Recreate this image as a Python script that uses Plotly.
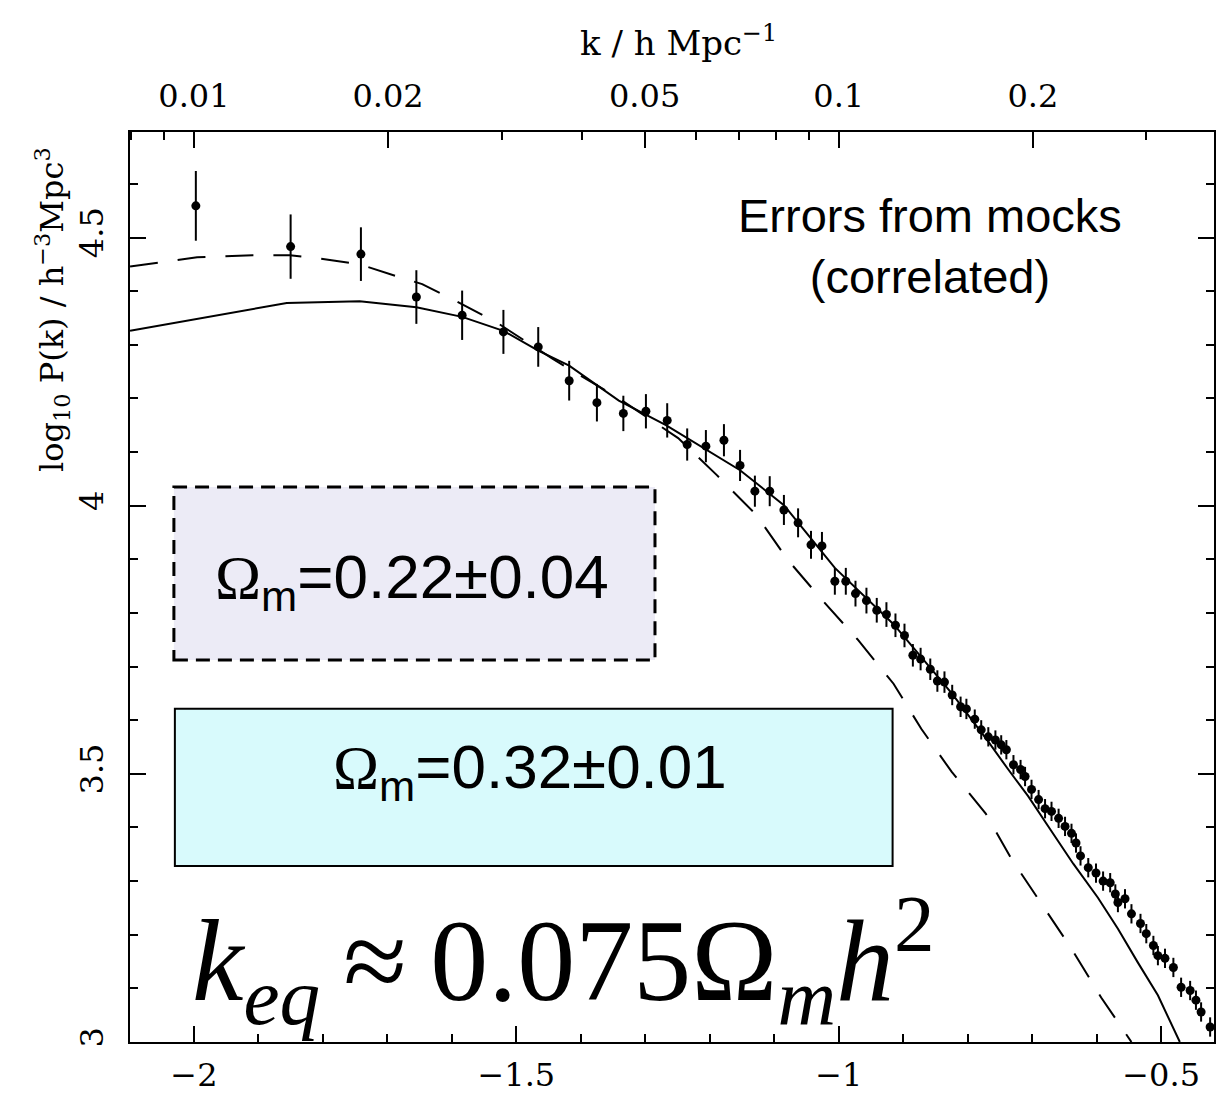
import numpy as np
import plotly.graph_objects as go

# Measured band powers: log10 k, log10 P(k) and 1-sigma errors
log_k = [-1.997, -1.850, -1.741, -1.655, -1.584, -1.520, -1.466, -1.418, -1.375, -1.334,
         -1.299, -1.266, -1.235, -1.206, -1.178, -1.153, -1.130, -1.107, -1.085, -1.063,
         -1.043, -1.026, -1.006, -0.989, -0.974, -0.957, -0.941, -0.926, -0.912, -0.898,
         -0.885, -0.873, -0.858, -0.847, -0.836, -0.824, -0.811, -0.802, -0.789, -0.779,
         -0.768, -0.757, -0.748, -0.740, -0.729, -0.718, -0.711, -0.701, -0.690, -0.680,
         -0.670, -0.659, -0.649, -0.639, -0.632, -0.625, -0.613, -0.601, -0.590, -0.579,
         -0.571, -0.567, -0.556, -0.546, -0.532, -0.523, -0.512, -0.505, -0.494, -0.481,
         -0.469, -0.455, -0.446, -0.438, -0.424]
log_p = [4.559, 4.483, 4.469, 4.389, 4.355, 4.324, 4.296, 4.233, 4.192, 4.172,
         4.176, 4.159, 4.114, 4.111, 4.122, 4.075, 4.027, 4.027, 3.992, 3.968,
         3.927, 3.925, 3.859, 3.859, 3.836, 3.823, 3.805, 3.797, 3.777, 3.758,
         3.721, 3.714, 3.695, 3.673, 3.671, 3.647, 3.625, 3.621, 3.602, 3.582,
         3.569, 3.563, 3.554, 3.545, 3.517, 3.508, 3.495, 3.471, 3.452, 3.435,
         3.430, 3.417, 3.402, 3.389, 3.371, 3.347, 3.325, 3.315, 3.300, 3.297,
         3.276, 3.260, 3.267, 3.239, 3.221, 3.202, 3.180, 3.161, 3.156, 3.139,
         3.102, 3.096, 3.078, 3.056, 3.028]
log_p_err = [0.065, 0.060, 0.050, 0.050, 0.046, 0.041, 0.037, 0.037, 0.035, 0.033,
             0.032, 0.032, 0.030, 0.030, 0.030, 0.029, 0.029, 0.028, 0.028, 0.027,
             0.026, 0.026, 0.025, 0.025, 0.024, 0.024, 0.023, 0.023, 0.022, 0.022,
             0.021, 0.021, 0.020, 0.020, 0.020, 0.019, 0.019, 0.019, 0.018, 0.018,
             0.018, 0.018, 0.018, 0.018, 0.018, 0.018, 0.018, 0.018, 0.018, 0.018,
             0.018, 0.018, 0.018, 0.018, 0.018, 0.018, 0.018, 0.018, 0.018, 0.018,
             0.018, 0.018, 0.018, 0.018, 0.018, 0.018, 0.018, 0.018, 0.018, 0.018,
             0.018, 0.018, 0.018, 0.018, 0.018]

# Model spectra: solid (convolved best fit) and dashed (linear model)
solid_log_k = [-2.099, -1.856, -1.743, -1.655, -1.584, -1.520, -1.466, -1.418, -1.341, -1.268,
               -1.153, -1.085, -1.006, -0.915, -0.824, -0.768, -0.737, -0.706, -0.670, -0.636,
               -0.598, -0.567, -0.536, -0.505, -0.471]
solid_log_p = [4.326, 4.378, 4.381, 4.370, 4.352, 4.326, 4.289, 4.261, 4.196, 4.150,
               4.066, 4.001, 3.884, 3.779, 3.649, 3.560, 3.508, 3.458, 3.393, 3.332,
               3.269, 3.211, 3.148, 3.087, 3.000]
dashed_log_k = [-2.099, -1.995, -1.909, -1.851, -1.805, -1.743, -1.686, -1.646, -1.599, -1.531,
                -1.444, -1.341, -1.249, -1.189, -1.128, -1.079, -1.025, -0.971, -0.915, -0.872,
                -0.825, -0.772, -0.732, -0.680, -0.639, -0.593, -0.546]
dashed_log_p = [4.446, 4.463, 4.467, 4.467, 4.461, 4.450, 4.428, 4.413, 4.385, 4.342,
                4.274, 4.200, 4.126, 4.057, 3.983, 3.899, 3.823, 3.751, 3.668, 3.584,
                3.504, 3.426, 3.341, 3.248, 3.174, 3.083, 3.000]

# Axis ticks
x_major = [-2, -1.5, -1, -0.5]
y_major = [3, 3.5, 4, 4.5]
k_labels = [0.01, 0.02, 0.05, 0.1, 0.2]
k_label_text = ["0.01", "0.02", "0.05", "0.1", "0.2"]
k_minor = [0.008, 0.009, 0.03, 0.04, 0.06, 0.07, 0.08, 0.09, 0.3]

x_range = [-2.0991, -0.4180]
y_range = [3.0, 4.6967]

tick_font = dict(family="DejaVu Serif, Liberation Serif, serif", size=32, color="black")
sans = "Liberation Sans, Arial, sans-serif"
serif = "Liberation Serif, Times New Roman, serif"

fig = go.Figure()

fig.add_trace(go.Scatter(
    x=solid_log_k, y=solid_log_p, mode="lines",
    line=dict(color="black", width=2), showlegend=False, hoverinfo="skip"))
fig.add_trace(go.Scatter(
    x=dashed_log_k, y=dashed_log_p, mode="lines",
    line=dict(color="black", width=2, dash="28px,20px"), showlegend=False, hoverinfo="skip"))
fig.add_trace(go.Scatter(
    x=log_k, y=log_p, mode="markers",
    marker=dict(color="black", size=9),
    error_y=dict(type="data", array=log_p_err, visible=True, color="black",
                 thickness=2, width=0),
    showlegend=False))
# carrier trace for the top k axis
fig.add_trace(go.Scatter(x=[x_range[0]], y=[y_range[0]], xaxis="x2", mode="markers",
                         marker=dict(opacity=0), showlegend=False, hoverinfo="skip"))

fig.update_layout(
    width=1216, height=1094,
    margin=dict(l=130, r=0, t=132, b=47),
    paper_bgcolor="white", plot_bgcolor="white",
    xaxis=dict(range=x_range, showgrid=False, zeroline=False,
               showline=True, linecolor="black", linewidth=2, mirror=True,
               ticks="inside", ticklen=16, tickwidth=1.5, tickcolor="black",
               tickmode="array", tickvals=x_major,
               minor=dict(ticks="inside", dtick=0.1, tick0=-2, ticklen=8,
                          tickwidth=1.5, tickcolor="black", showgrid=False),
               tickfont=tick_font, ticklabelstandoff=4),
    xaxis2=dict(range=x_range, overlaying="x", side="top", anchor="y",
                showgrid=False, zeroline=False, showline=False,
                ticks="inside", ticklen=16, tickwidth=1.5, tickcolor="black",
                tickmode="array", tickvals=list(np.log10(k_labels)), ticktext=k_label_text,
                minor=dict(ticks="inside", tickmode="array", tickvals=list(np.log10(k_minor)),
                           ticklen=8, tickwidth=1.5, tickcolor="black", showgrid=False),
                tickfont=tick_font, ticklabelstandoff=18),
    yaxis=dict(range=y_range, showgrid=False, zeroline=False,
               showline=True, linecolor="black", linewidth=2, mirror="ticks",
               ticks="inside", ticklen=16, tickwidth=1.5, tickcolor="black",
               tickmode="array", tickvals=y_major, tickangle=-90,
               minor=dict(ticks="inside", dtick=0.1, tick0=3, ticklen=8,
                          tickwidth=1.5, tickcolor="black", showgrid=False),
               tickfont=tick_font, ticklabelstandoff=12),
)

# Parameter boxes
fig.add_shape(type="rect", xref="paper", yref="paper",
              x0=0.0405, x1=0.4843, y0=0.4197, y1=0.6098,
              fillcolor="#ecebf6", line=dict(color="black", width=3, dash="14px,8px"),
              layer="above")
fig.add_shape(type="rect", xref="paper", yref="paper",
              x0=0.0414, x1=0.7035, y0=0.1934, y1=0.3661,
              fillcolor="#d8fafc", line=dict(color="black", width=2),
              layer="above")

annotations = [
    dict(text="k / h Mpc<sup>−1</sup>", x=0.5064, y=1.100, font=dict(family=tick_font["family"], size=34)),
    dict(text="log<sub>10</sub> P(k) / h<sup>−3</sup>Mpc<sup>3</sup>", x=-0.072, y=0.8055,
         textangle=-90, font=dict(family=tick_font["family"], size=32)),
    dict(text="Errors from mocks<br>(correlated)", x=0.7376, y=0.875,
         font=dict(family=sans, size=47)),
    dict(text="<span style='font-family:Liberation Serif'>Ω</span><sub>m</sub>=0.22±0.04",
         x=0.2606, y=0.5071, font=dict(family=sans, size=62)),
    dict(text="<span style='font-family:Liberation Serif'>Ω</span><sub>m</sub>=0.32±0.01",
         x=0.3692, y=0.2973, font=dict(family=sans, size=62)),
    dict(text="<i>k</i><sub><i>eq</i></sub>\u2009≈\u20090.075Ω<sub><i>m</i></sub><i>h</i><sup>2</sup>",
         x=0.0552, y=0.09, xanchor="left", font=dict(family=serif, size=116)),
]
for a in annotations:
    a.setdefault("xanchor", "center")
    a.setdefault("yanchor", "middle")
    a.update(xref="paper", yref="paper", showarrow=False)
    a["font"].setdefault("color", "black")
    fig.add_annotation(**a)

fig.write_html("out.html")
